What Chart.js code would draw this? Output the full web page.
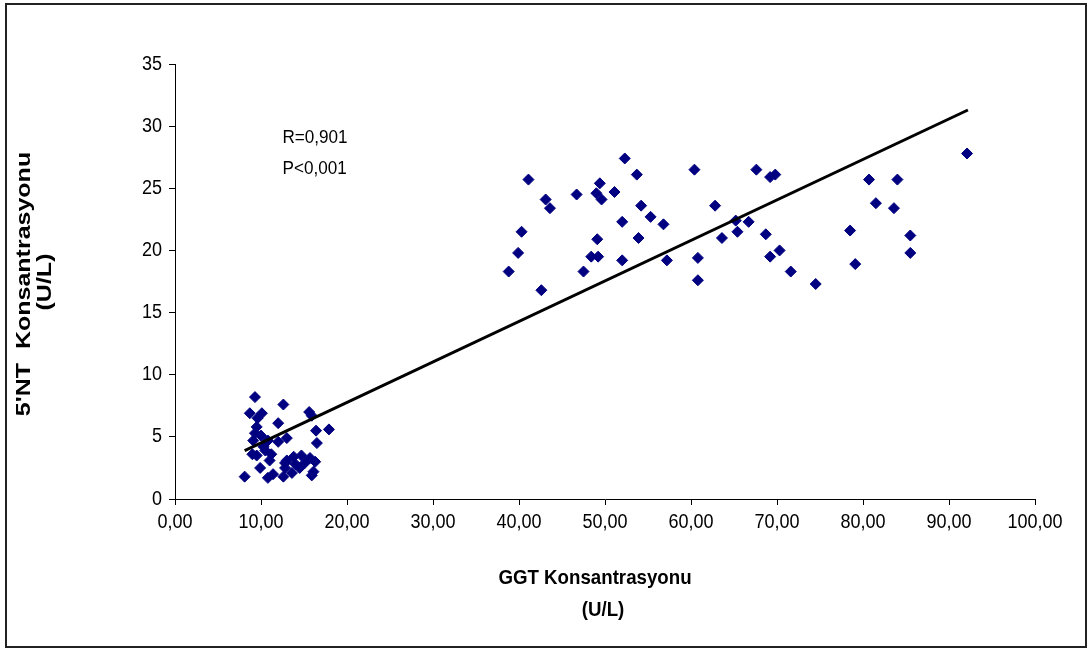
<!DOCTYPE html>
<html>
<head>
<meta charset="utf-8">
<title>GGT - 5'NT</title>
<script src="https://cdn.jsdelivr.net/npm/chart.js@4.4.0/dist/chart.umd.min.js"></script>
<style>
  html, body { margin: 0; padding: 0; background: #fff; }
</style>
</head>
<body>
<canvas id="Chart" width="1091" height="651"></canvas>
<script>
// GGT (U/L) and 5'NT (U/L) for each sample
const ggtValues = [
  9.3, 12.6, 8.7, 10.1, 9.6, 15.6, 15.9, 12.0, 9.5, 16.4, 17.9, 9.3, 10.0, 13.0,
  12.0, 16.5, 9.1, 10.8, 9.5, 10.5, 11.0, 9.9, 8.1, 10.8, 11.4, 13.0, 13.8, 14.7,
  15.7, 16.3, 12.8, 13.6, 14.5, 16.1, 15.1, 12.6, 15.9, 10.3, 11.2, 9.0, 12.8, 14.0,
  41.1, 52.3, 53.7, 49.4, 49.0, 49.6, 46.7, 51.1, 43.1, 43.6, 54.2, 55.3, 56.8, 52.0,
  40.3, 53.9, 49.1, 39.9, 48.4, 49.2, 52.0, 57.2, 38.8, 47.5, 42.6,
  60.4, 67.6, 69.2, 69.8, 80.7, 84.0, 81.5, 83.6, 62.8, 65.2, 66.7, 63.6, 65.4, 68.7,
  78.5, 85.5, 85.5, 70.3, 69.2, 60.8, 79.1, 71.6, 60.8, 74.5, 92.1
];
const ntValues = [
  8.2, 7.6, 6.9, 6.9, 6.5, 7.0, 6.7, 6.1, 5.8, 5.5, 5.6, 5.3, 5.1, 4.9,
  4.6, 4.5, 4.7, 4.7, 3.5, 3.9, 3.1, 2.5, 1.8, 1.7, 2.0, 3.1, 3.4, 3.5,
  3.3, 3.0, 2.5, 2.1, 2.5, 2.2, 2.9, 1.8, 1.9, 4.2, 3.6, 3.6, 2.9, 2.8,
  25.7, 27.4, 26.1, 25.4, 24.6, 24.1, 24.5, 24.7, 24.1, 23.4, 23.6, 22.7, 22.1, 22.3,
  21.5, 21.0, 20.9, 19.8, 19.5, 19.5, 19.2, 19.2, 18.3, 18.3, 16.8,
  26.5, 26.5, 25.9, 26.1, 25.7, 25.7, 23.8, 23.4, 23.6, 22.4, 22.3, 21.0, 21.5, 21.3,
  21.6, 21.2, 19.8, 20.0, 19.5, 19.4, 18.9, 18.3, 17.6, 17.3, 27.8
];

// regression line end points
const trendGgt = [8.1, 92.2];
const trendNt = [3.9, 31.3];

const statsLines = ['R=0,901', 'P<0,001'];
const xTitle = ['GGT Konsantrasyonu', '(U/L)'];
const yTitle = ["5'NT  Konsantrasyonu", '(U/L)'];

const FONT = '"Liberation Sans", Arial, sans-serif';

// text drawn a bit narrower than the font (condensed look)
function narrowText(ctx, text, x, y, sx, rot) {
  ctx.save();
  ctx.translate(x, y);
  ctx.scale(sx, 1);
  if (rot) ctx.rotate(rot);
  ctx.fillText(text, 0, 0);
  ctx.restore();
}

const fmtX = v => v.toFixed(2).replace('.', ',');

// tick labels, axis titles, R / P text and outer frame
const labelsPlugin = {
  id: 'labels',
  afterDraw(chart) {
    const ctx = chart.ctx;
    const x = chart.scales.x, y = chart.scales.y;
    ctx.save();
    ctx.fillStyle = '#000';
    ctx.textBaseline = 'middle';

    ctx.font = '20px ' + FONT;
    ctx.textAlign = 'center';
    x.ticks.forEach((t, i) => narrowText(ctx, fmtX(t.value), x.getPixelForTick(i), 522, 0.9));
    ctx.textAlign = 'right';
    y.ticks.forEach((t, i) => narrowText(ctx, String(t.value), 162, y.getPixelForTick(i), 0.9));

    ctx.font = '19px ' + FONT;
    ctx.textAlign = 'left';
    const px = x.getPixelForValue(12.5);
    const py = y.getPixelForValue(29.1);
    statsLines.forEach((t, i) => narrowText(ctx, t, px, py + i * 31, 0.9));

    ctx.font = 'bold 21px ' + FONT;
    ctx.textAlign = 'center';
    narrowText(ctx, xTitle[0], 595, 578, 0.89);
    narrowText(ctx, xTitle[1], 603, 610, 0.89);

    ctx.font = 'bold 25px ' + FONT;
    narrowText(ctx, yTitle[0], 25, 284, 0.78, -Math.PI / 2);
    narrowText(ctx, yTitle[1], 46, 282, 0.78, -Math.PI / 2);

    ctx.strokeStyle = '#222';
    ctx.lineWidth = 2;
    ctx.strokeRect(6, 4, 1080, 643);
    ctx.restore();
  }
};

const ctx = document.getElementById('Chart');
const chart = new Chart(ctx, {
  data: {
    datasets: [{
      type: 'scatter',
      data: ggtValues.map((g, i) => ({ x: g, y: ntValues[i] })),
      pointStyle: 'rectRot',
      pointRadius: 5.5,
      pointHoverRadius: 5.5,
      backgroundColor: '#000080',
      borderColor: '#000080',
      borderWidth: 1,
      order: 2
    }, {
      type: 'line',
      data: trendGgt.map((g, i) => ({ x: g, y: trendNt[i] })),
      borderColor: '#000',
      borderWidth: 3,
      pointRadius: 0,
      fill: false,
      order: 1
    }]
  },
  options: {
    responsive: false,
    animation: false,
    layout: { padding: { top: 64, right: 56, bottom: 0, left: 0 } },
    plugins: {
      legend: { display: false },
      tooltip: { enabled: false }
    },
    scales: {
      x: {
        type: 'linear',
        position: 'bottom',
        min: 0,
        max: 100,
        afterFit(scale) { scale.height = 152; },
        border: { color: '#000', width: 1 },
        grid: { drawOnChartArea: false, drawTicks: true, tickLength: 6, tickColor: '#000' },
        ticks: { stepSize: 10, display: false }
      },
      y: {
        type: 'linear',
        position: 'left',
        min: 0,
        max: 35,
        afterFit(scale) { scale.width = 175; },
        border: { color: '#000', width: 1 },
        grid: { drawOnChartArea: false, drawTicks: true, tickLength: 6, tickColor: '#000' },
        ticks: { stepSize: 5, display: false }
      }
    }
  },
  plugins: [labelsPlugin]
});
</script>
</body>
</html>
